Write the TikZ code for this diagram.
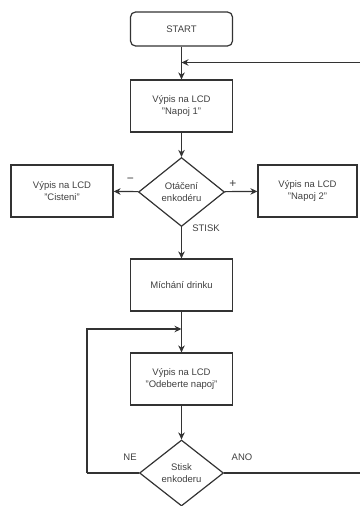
\documentclass[tikz,border=0pt]{standalone}
\usepackage{fontspec}
\setmainfont{Liberation Sans}
\usetikzlibrary{shapes.geometric,arrows.meta}
\definecolor{ln}{HTML}{333333}
\definecolor{tx}{HTML}{404040}
\tikzset{
  box/.style={draw=ln,line width=1.2pt,minimum width=102pt,minimum height=52pt,inner sep=0pt,align=center,text=tx,font=\fontsize{9.5}{11.5}\selectfont},
  rbox/.style={box,rounded corners=5pt,minimum height=34pt},
  dec/.style={draw=ln,line width=1.2pt,shape=diamond,inner sep=0pt,align=center,text=tx,font=\fontsize{9.5}{11.5}\selectfont},
  lbl/.style={text=tx,font=\fontsize{9.5}{11.5}\selectfont,inner sep=0pt},
  sgn/.style={text=tx,font=\fontsize{12}{12}\selectfont,inner sep=0pt},
  conn/.style={draw=ln,line width=1.2pt},
  arr/.style={conn,-{Stealth[length=7pt,width=6.5pt]}}
}
\begin{document}
\begin{tikzpicture}[x=1pt,y=-1pt]
\useasboundingbox (0,0) rectangle (359,506);
\node[rbox] (start) at (181.5,29) {START};
\node[box] (n1) at (181.5,106) {Výpis na LCD\\"Napoj 1"};
\node[dec,minimum width=86pt,minimum height=69pt] (d1) at (181.5,192) {Otáčení\\enkodéru};
\node[box] (cis) at (62,191) {Výpis na LCD\\"Cisteni"};
\node[box,minimum width=99pt] (n2) at (307.5,191) {Výpis na LCD\\"Napoj 2"};
\node[box] (mix) at (181.5,285) {Míchání drinku};
\node[box] (ode) at (181.5,379) {Výpis na LCD\\"Odeberte napoj"};
\node[dec,minimum width=84pt,minimum height=66pt] (d2) at (181.5,473) {Stisk\\enkoderu};
\coordinate (j1) at (181.5,62.5);
\coordinate (r1) at (360,62.5);
\coordinate (j2) at (181.5,329);
\coordinate (l2) at (87,329);
\coordinate (l3) at (87,473);
\coordinate (r2) at (360,473);
\node[sgn] (minus) at (130.5,180) {−};
\node[sgn] (plus) at (233,184) {+};
\node[lbl] (stisk) at (206,228) {STISK};
\node[lbl] (ne) at (130,457) {NE};
\node[lbl] (ano) at (242,457) {ANO};
\draw[arr] (start) -- (n1);
\draw[arr] (r1) -- (j1);
\draw[arr] (n1) -- (d1);
\draw[arr] (d1) -- (cis);
\draw[arr] (d1) -- (n2);
\draw[arr] (d1) -- (mix);
\draw[arr] (mix) -- (ode);
\draw[arr] (l3) -- (l2) -- (j2);
\draw[conn] (d2.west) -- (l3);
\draw[arr] (ode) -- (d2);
\draw[conn] (d2.east) -- (r2);
\end{tikzpicture}
\end{document}
